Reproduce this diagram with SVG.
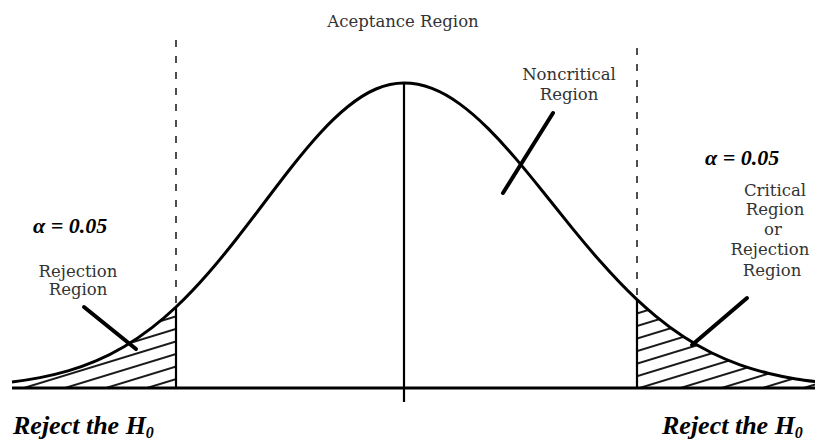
<svg xmlns="http://www.w3.org/2000/svg" width="815" height="444" viewBox="0 0 815 444">
<style>
.lbl{font-family:"DejaVu Serif","Liberation Serif",serif;font-size:16.5px;fill:#333;text-anchor:middle}
.em{font-family:"Liberation Serif","Times New Roman",serif;font-weight:bold;font-style:italic;fill:#000}
.ln{stroke:#000;fill:none}
.ptr{stroke:#000;stroke-width:4;stroke-linecap:round}
.dash{stroke:#222;stroke-width:1.6;stroke-dasharray:7 9}
</style>
<defs>
<pattern id="hatch" patternUnits="userSpaceOnUse" width="12" height="12" patternTransform="rotate(-17)">
<line x1="0" y1="6" x2="12" y2="6" stroke="#000" stroke-width="1.8"/>
</pattern>
</defs>
<rect width="815" height="444" fill="#fff"/>
<g id="left-region">
<path fill="url(#hatch)" d="M12,388 L12,381.95 C21.33,380.82 30.67,379.42 40,377.62 C49.33,375.82 58.67,373.61 68,370.88 C77.33,368.15 86.67,364.86 96,360.88 C105.33,356.9 114.67,352.23 124,346.72 C133.33,341.21 142.67,334.88 152,327.64 C160,321.43 168,314.56 176,307.02 L176,388 Z"/>
<line class="ln" x1="176" y1="307" x2="176" y2="388" stroke-width="2.2"/>
<line class="dash" x1="176" y1="40" x2="176" y2="305"/>
</g>
<g id="right-region">
<path fill="url(#hatch)" d="M637,388 L637,299.7 C643.33,305.65 649.67,311.18 656,316.4 C665.33,324.09 674.67,331.02 684,337.1 C693.33,343.18 702.67,348.41 712,353 C721.33,357.59 730.67,361.48 740,364.8 C749.33,368.12 758.67,370.9 768,373.2 C777.33,375.5 786.67,377.38 796,378.9 C802.33,379.93 808.67,380.73 815,381.5 L815,388 Z"/>
<line class="ln" x1="637" y1="300" x2="637" y2="388" stroke-width="2.2"/>
<line class="dash" x1="637" y1="48" x2="637" y2="298"/>
</g>
<g id="curve">
<path class="ln" stroke-width="3" d="M12,381.95 C21.33,380.82 30.67,379.42 40,377.62 C49.33,375.82 58.67,373.61 68,370.88 C77.33,368.15 86.67,364.86 96,360.88 C105.33,356.9 114.67,352.23 124,346.72 C133.33,341.21 142.67,334.88 152,327.64 C160,321.43 168,314.56 176,307.02 C186.67,296.97 197.33,285.71 208,273.5 C217.33,262.81 226.67,251.38 236,239.5 C245.33,227.62 254.67,215.33 264,203 C273.33,190.67 282.67,178.32 292,166.5 C301.33,154.68 310.67,143.39 320,133.2 C329.33,123.01 338.67,114 348,106.5 C357.33,99 366.67,92.99 376,89 C385.33,85.01 394.67,83 404,83 C413.33,83 422.67,84.83 432,88.4 C441.33,91.97 450.67,97.32 460,104.1 C469.33,110.88 478.67,119.1 488,128.4 C497.33,137.7 506.67,147.97 516,158.9 C525.33,169.83 534.67,181.37 544,193 C553.33,204.63 562.67,216.44 572,227.9 C581.33,239.36 590.67,250.5 600,261.1 C612.33,275.11 624.67,288.12 637,299.7 C643.33,305.65 649.67,311.18 656,316.4 C665.33,324.09 674.67,331.02 684,337.1 C693.33,343.18 702.67,348.41 712,353 C721.33,357.59 730.67,361.48 740,364.8 C749.33,368.12 758.67,370.9 768,373.2 C777.33,375.5 786.67,377.38 796,378.9 C802.33,379.93 808.67,380.73 815,381.5"/>
</g>
<g id="axis">
<line class="ln" x1="12" y1="388" x2="815" y2="388" stroke-width="3"/>
<line class="ln" x1="404" y1="83" x2="404" y2="402" stroke-width="2.2"/>
</g>
<g id="connectors">
<line class="ptr" x1="84" y1="307" x2="136" y2="349"/>
<line class="ptr" x1="553" y1="113" x2="503" y2="193"/>
<line class="ptr" x1="747" y1="298" x2="692" y2="345"/>
</g>
<g id="acceptance-label">
<text class="lbl" x="403" y="27" font-size="18">Aceptance Region</text>
</g>
<g id="noncritical-label">
<text class="lbl" x="569" y="80">Noncritical</text>
<text class="lbl" x="569" y="100">Region</text>
</g>
<g id="left-labels">
<text class="em" x="33" y="233" font-size="22">α = 0.05</text>
<text class="lbl" x="78" y="277">Rejection</text>
<text class="lbl" x="78" y="295">Region</text>
</g>
<g id="right-labels">
<text class="em" x="705" y="165" font-size="22">α = 0.05</text>
<text class="lbl" x="775" y="196">Critical</text>
<text class="lbl" x="775" y="215">Region</text>
<text class="lbl" x="773" y="235" font-size="14">or</text>
<text class="lbl" x="770" y="255">Rejection</text>
<text class="lbl" x="772" y="276">Region</text>
</g>
<g id="reject-labels">
<text class="em" x="13" y="434" font-size="26">Reject the H<tspan font-size="16" dy="4">0</tspan></text>
<text class="em" x="662" y="434" font-size="26">Reject the H<tspan font-size="16" dy="4">0</tspan></text>
</g>
</svg>
